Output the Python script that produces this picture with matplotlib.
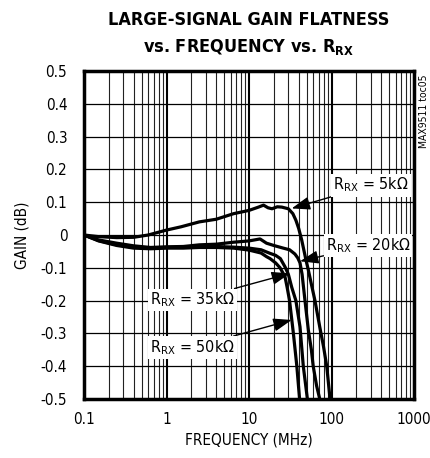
import matplotlib
matplotlib.use('Agg')
import matplotlib.pyplot as plt
from matplotlib.ticker import FixedLocator, NullFormatter

plt.rcParams['font.family'] = ['DejaVu Sans']
plt.rcParams['font.stretch'] = 'condensed'
plt.rcParams['mathtext.fontset'] = 'custom'
plt.rcParams['mathtext.rm'] = 'DejaVu Sans:stretch=condensed'
plt.rcParams['mathtext.bf'] = 'DejaVu Sans:bold:stretch=condensed'

# frequency (MHz) and gain (dB)
f_5k = [0.1, 0.15, 0.25, 0.4, 0.6, 1.0, 1.5, 2.5, 4, 6.5, 10, 13, 15, 17, 19, 22, 25, 30, 34, 37, 40,
        43.5, 49, 52.4, 57, 63, 72, 80, 87.5, 96]
g_5k = [0.0, -0.005, -0.008, -0.007, 0.0, 0.015, 0.025, 0.04, 0.048, 0.065, 0.075, 0.085, 0.091, 0.083,
        0.08, 0.086, 0.085, 0.08, 0.065, 0.045, 0.02, -0.015, -0.076, -0.107, -0.15, -0.2, -0.28, -0.34,
        -0.4, -0.5]

f_20k = [0.1, 0.15, 0.25, 0.4, 0.64, 1, 1.6, 2.5, 4, 6.5, 10, 13.6, 16.3, 20, 26, 31, 36, 39, 41.5, 44,
         47.7, 52.4, 57, 60, 66, 72]
g_20k = [0.0, -0.015, -0.025, -0.033, -0.038, -0.036, -0.035, -0.03, -0.028, -0.022, -0.018, -0.012,
         -0.025, -0.032, -0.04, -0.045, -0.058, -0.07, -0.085, -0.12, -0.2, -0.29, -0.35, -0.4, -0.46, -0.5]

f_35k = [0.1, 0.15, 0.25, 0.4, 0.64, 1, 1.6, 2.5, 4, 6.5, 10, 14, 18, 21, 24, 27.3, 30, 33, 37, 41.5,
         45.5, 51]
g_35k = [0.0, -0.017, -0.03, -0.037, -0.04, -0.038, -0.037, -0.035, -0.035, -0.037, -0.04, -0.045, -0.056,
         -0.062, -0.072, -0.097, -0.12, -0.16, -0.2, -0.28, -0.4, -0.5]

f_50k = [0.1, 0.15, 0.25, 0.4, 0.64, 1, 1.6, 2.5, 4, 6.5, 10, 14, 16.3, 18, 21, 23.8, 27.3, 29, 31, 34.5,
         38, 41]
g_50k = [0.0, -0.018, -0.032, -0.04, -0.042, -0.04, -0.04, -0.038, -0.038, -0.04, -0.046, -0.055, -0.066,
         -0.072, -0.085, -0.1, -0.127, -0.16, -0.2, -0.3, -0.4, -0.5]

x_ticks = [0.1, 1, 10, 100, 1000]
x_labels = ['0.1', '1', '10', '100', '1000']
y_ticks = [0.5, 0.4, 0.3, 0.2, 0.1, 0, -0.1, -0.2, -0.3, -0.4, -0.5]
y_labels = ['0.5', '0.4', '0.3', '0.2', '0.1', '0', '-0.1', '-0.2', '-0.3', '-0.4', '-0.5']

fig = plt.figure(figsize=(4.31, 4.58), dpi=100)
ax = fig.add_axes([0.1949, 0.1288, 0.7657, 0.7162])

for f, g in [(f_5k, g_5k), (f_20k, g_20k), (f_35k, g_35k), (f_50k, g_50k)]:
    ax.plot(f, g, color='black', lw=2.3, zorder=3, solid_capstyle='butt')

ax.set_xscale('log')
ax.set_xlim(0.1, 1000)
ax.set_ylim(-0.5, 0.5)
ax.xaxis.set_major_locator(FixedLocator(x_ticks))
ax.set_xticklabels(x_labels)
ax.xaxis.set_minor_locator(FixedLocator([m * 10.0 ** d for d in range(-1, 3) for m in range(2, 10)]))
ax.xaxis.set_minor_formatter(NullFormatter())
ax.set_yticks(y_ticks)
ax.set_yticklabels(y_labels)
ax.tick_params(which='both', length=0, labelsize=11)
ax.tick_params(axis='y', pad=12)
ax.tick_params(axis='x', pad=9)
ax.grid(which='major', axis='x', color='black', lw=1.5)
ax.grid(which='major', axis='y', color='black', lw=0.9)
ax.grid(which='minor', axis='x', color='#222222', lw=0.8)
for s in ax.spines.values():
    s.set_linewidth(2.5)

ax.set_xlabel('FREQUENCY (MHz)', fontsize=11, labelpad=4)
ax.set_ylabel('GAIN (dB)', fontsize=11, labelpad=8)

fig.text(0.578, 0.975, 'LARGE-SIGNAL GAIN FLATNESS\nvs. FREQUENCY vs. R$\\mathbf{_{RX}}$',
         ha='center', va='top', fontsize=13, fontweight='bold', linespacing=1.5)
fig.text(0.984, 0.837, 'MAX9511 toc05', rotation=90, ha='center', va='top', fontsize=7.5)

box = dict(facecolor='white', edgecolor='none', pad=1.5)
arrow = dict(arrowstyle='-|>,head_length=0.7,head_width=0.25', color='black', lw=1, mutation_scale=16,
             shrinkA=0, shrinkB=0)
ax.annotate('R$_{\\mathrm{RX}}$ = 5k\u03a9', xy=(32.9, 0.081), xytext=(301, 0.152), ha='center', va='center',
            fontsize=11.5, bbox=box, arrowprops=arrow, zorder=5)
ax.annotate('R$_{\\mathrm{RX}}$ = 20k\u03a9', xy=(41.5, -0.08), xytext=(277, -0.032), ha='center', va='center',
            fontsize=11.5, bbox=box, arrowprops=arrow, zorder=5)
ax.annotate('R$_{\\mathrm{RX}}$ = 35k\u03a9', xy=(31.4, -0.117), xytext=(2.07, -0.198), ha='center', va='center',
            fontsize=11.5, bbox=box, arrowprops=arrow, zorder=5)
ax.annotate('R$_{\\mathrm{RX}}$ = 50k\u03a9', xy=(32.9, -0.259), xytext=(2.05, -0.343), ha='center', va='center',
            fontsize=11.5, bbox=box, arrowprops=arrow, zorder=5)

fig.savefig('out.png', dpi=100)
